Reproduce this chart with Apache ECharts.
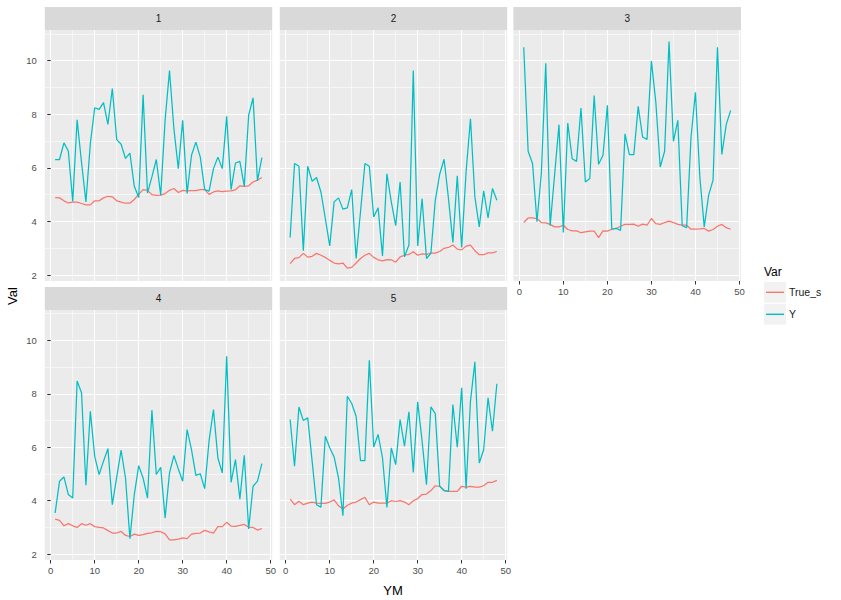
<!DOCTYPE html>
<html>
<head>
<meta charset="utf-8">
<script src="https://cdn.jsdelivr.net/npm/echarts@6/dist/echarts.min.js"></script>
<style>
html,body{margin:0;padding:0;background:#fff;}
#chart{width:841px;height:600px;}
</style>
</head>
<body>
<div id="chart"></div>
<script>
// ---------- data ----------
const months = [1,2,3,4,5,6,7,8,9,10,11,12,13,14,15,16,17,18,19,20,21,22,23,24,
                25,26,27,28,29,30,31,32,33,34,35,36,37,38,39,40,41,42,43,44,45,46,47,48];
const panelLabels = ['1','2','3','4','5'];
const seriesNames = ['True_s','Y'];
const yTicks = [2,4,6,8,10];
const yMinorTicks = [3,5,7,9,11];
const xTicks = [0,10,20,30,40,50];
const xMinorTicks = [5,15,25,35,45];

const trueS1 = [4.89,4.88,4.77,4.69,4.72,4.72,4.67,4.62,4.62,4.77,4.77,4.88,4.94,4.92,4.77,4.72,4.68,4.68,4.82,5.01,5.19,5.16,5.00,4.97,
                4.98,5.04,5.16,5.23,5.08,5.16,5.14,5.15,5.15,5.19,5.19,5.01,5.10,5.14,5.11,5.13,5.14,5.18,5.33,5.31,5.33,5.47,5.54,5.64];
const y1 = [6.31,6.31,6.93,6.63,4.75,7.79,6.20,4.73,6.90,8.24,8.18,8.43,7.62,8.96,7.05,6.88,6.35,6.55,5.31,4.89,8.72,5.06,5.66,6.31,
            4.98,7.77,9.63,7.46,5.97,7.77,5.04,6.47,6.96,6.40,5.19,5.13,5.97,6.40,5.97,7.92,5.19,6.18,6.24,5.31,7.96,8.61,5.51,6.38];

const trueS2 = [2.43,2.62,2.65,2.81,2.67,2.70,2.81,2.74,2.66,2.55,2.45,2.42,2.45,2.26,2.29,2.45,2.62,2.74,2.81,2.66,2.57,2.53,2.58,2.57,
                2.48,2.68,2.74,2.77,2.87,2.74,2.79,2.77,2.82,2.82,2.88,3.00,3.03,3.12,2.97,2.94,3.08,3.12,2.91,2.76,2.76,2.83,2.83,2.88];
const y2 = [3.40,6.16,6.06,2.91,6.06,5.50,5.64,5.10,4.11,3.09,4.73,4.88,4.46,4.51,5.19,2.62,4.36,6.16,6.06,4.17,4.51,2.71,5.78,4.73,
            3.84,5.47,2.68,3.12,9.63,3.09,4.85,2.62,2.81,4.79,5.76,6.32,4.85,3.22,5.70,3.03,5.85,7.83,4.92,3.80,5.14,4.13,5.23,4.79];

const trueS3 = [3.96,4.13,4.13,4.11,3.96,3.95,3.89,3.80,3.80,3.86,3.70,3.65,3.65,3.58,3.61,3.64,3.64,3.40,3.65,3.64,3.71,3.74,3.82,3.89,
                3.89,3.90,3.82,3.90,3.86,4.11,3.92,3.89,3.96,4.01,3.96,3.89,3.86,3.86,3.71,3.71,3.72,3.74,3.64,3.70,3.82,3.89,3.77,3.71];
const y3 = [10.50,6.62,6.16,3.99,5.80,9.90,3.84,5.72,7.61,3.59,7.67,6.34,6.24,8.23,5.47,5.60,8.70,6.13,6.47,8.33,3.71,3.74,3.67,7.27,
            6.49,6.49,8.29,7.15,7.06,9.98,8.45,6.03,6.62,10.71,6.99,7.77,3.84,3.77,7.15,8.82,5.66,3.80,4.98,5.54,10.50,6.50,7.62,8.14];

const trueS4 = [3.31,3.26,3.06,3.14,3.06,3.00,3.14,3.08,3.14,3.03,3.00,2.98,2.88,2.79,2.79,2.85,2.70,2.66,2.75,2.70,2.73,2.78,2.80,2.85,
                2.84,2.76,2.53,2.53,2.56,2.61,2.58,2.75,2.78,2.79,2.89,2.83,2.79,3.03,3.03,3.19,3.05,3.04,3.08,3.11,3.01,3.00,2.90,2.96];
const y4 = [3.54,4.73,4.89,4.23,4.10,8.48,8.04,4.58,7.35,5.66,4.98,5.48,5.95,3.85,4.88,5.89,4.85,2.58,4.23,5.31,4.85,4.10,7.39,4.98,
            5.25,3.35,5.04,5.69,5.19,4.73,6.66,5.91,4.95,5.01,4.45,6.25,7.41,5.60,5.04,9.41,4.69,5.54,4.06,5.70,2.94,4.54,4.73,5.39];

const trueS5 = [4.06,3.85,3.98,3.85,3.91,3.95,3.91,3.90,3.90,3.95,4.03,3.81,3.69,3.83,3.91,3.95,4.04,4.13,3.85,3.95,3.91,3.91,3.91,4.00,
                3.97,4.00,3.95,3.85,4.00,4.08,4.23,4.25,4.38,4.56,4.54,4.38,4.35,4.35,4.35,4.54,4.51,4.54,4.51,4.51,4.56,4.69,4.69,4.76];
const y5 = [7.04,5.29,7.51,7.00,7.10,5.48,3.85,3.76,6.41,5.98,5.64,4.85,3.44,7.91,7.64,7.16,5.50,5.50,9.26,6.01,6.48,5.60,3.75,5.98,
            5.35,7.04,6.04,7.33,5.06,7.70,6.23,4.60,7.51,7.26,4.54,4.38,4.35,7.60,6.00,8.23,4.45,7.73,9.20,5.41,5.91,7.85,6.60,8.38];

const trueSeries = [trueS1, trueS2, trueS3, trueS4, trueS5];
const ySeries = [y1, y2, y3, y4, y5];

// ---------- layout / style ----------
const FONT = '"Liberation Sans", Arial, Helvetica, sans-serif';
const colors = {True_s: '#F8766D', Y: '#00BFC4'};
const xRange = [-1.35, 50.35];
const yRange = [1.78, 11.14];
const panels = [
  {left: 44.8,  top: 30,  width: 227.4, height: 251, showX: false, showY: true},
  {left: 279.8, top: 30,  width: 227.4, height: 251, showX: false, showY: false},
  {left: 513.4, top: 30,  width: 227.6, height: 251, showX: true,  showY: false},
  {left: 44.8,  top: 310, width: 227.4, height: 250, showX: true,  showY: true},
  {left: 279.8, top: 310, width: 227.4, height: 250, showX: true,  showY: false}
];
const STRIP_H = 23;

const grid = [], xAxis = [], yAxis = [], series = [], graphic = [];

panels.forEach((p, i) => {
  grid.push({
    left: p.left, top: p.top, width: p.width, height: p.height,
    show: true, backgroundColor: '#EBEBEB', borderWidth: 0,
    containLabel: false, outerBoundsMode: 'none'
  });
  // minor x grid
  xAxis.push({
    type: 'value', gridIndex: i, min: xRange[0], max: xRange[1], position: 'top',
    axisLine: {show: false}, axisLabel: {show: false},
    axisTick: {show: false, customValues: xMinorTicks},
    splitLine: {show: true, lineStyle: {color: '#FFFFFF', width: 0.55}}
  });
  // major x axis
  xAxis.push({
    type: 'value', gridIndex: i, min: xRange[0], max: xRange[1], position: 'bottom',
    axisLine: {show: false},
    axisTick: {show: p.showX, customValues: xTicks, length: 3.5, lineStyle: {color: '#333333', width: 1}},
    axisLabel: {show: p.showX, customValues: xTicks, color: '#4D4D4D', fontSize: 9.5, fontFamily: FONT, margin: 5},
    splitLine: {show: true, lineStyle: {color: '#FFFFFF', width: 1.1}}
  });
  // minor y grid
  yAxis.push({
    type: 'value', gridIndex: i, min: yRange[0], max: yRange[1], position: 'right',
    axisLine: {show: false}, axisLabel: {show: false},
    axisTick: {show: false, customValues: yMinorTicks},
    splitLine: {show: true, lineStyle: {color: '#FFFFFF', width: 0.55}}
  });
  // major y axis
  yAxis.push({
    type: 'value', gridIndex: i, min: yRange[0], max: yRange[1], position: 'left',
    axisLine: {show: false},
    axisTick: {show: p.showY, customValues: yTicks, length: 3.5, lineStyle: {color: '#333333', width: 1}},
    axisLabel: {show: p.showY, customValues: yTicks, color: '#4D4D4D', fontSize: 9.5, fontFamily: FONT, margin: 8},
    splitLine: {show: true, lineStyle: {color: '#FFFFFF', width: 1.1}}
  });

  const pairsT = months.map((m, k) => [m, trueSeries[i][k]]);
  const pairsY = months.map((m, k) => [m, ySeries[i][k]]);
  series.push({
    name: seriesNames[0], type: 'line', xAxisIndex: 2 * i + 1, yAxisIndex: 2 * i + 1,
    data: pairsT, symbol: 'none', showSymbol: false, silent: true, animation: false,
    lineStyle: {color: colors.True_s, width: 1.25}, itemStyle: {color: colors.True_s}
  });
  series.push({
    name: seriesNames[1], type: 'line', xAxisIndex: 2 * i + 1, yAxisIndex: 2 * i + 1,
    data: pairsY, symbol: 'none', showSymbol: false, silent: true, animation: false,
    lineStyle: {color: colors.Y, width: 1.25}, itemStyle: {color: colors.Y}
  });

  // facet strip
  graphic.push({
    type: 'rect', z: 1,
    shape: {x: p.left, y: p.top - STRIP_H, width: p.width, height: STRIP_H},
    style: {fill: '#D9D9D9'}
  });
  graphic.push({
    type: 'text', z: 2,
    x: p.left + p.width / 2, y: p.top - STRIP_H / 2,
    style: {text: panelLabels[i], fill: '#1A1A1A', fontSize: 10, fontFamily: FONT,
            align: 'center', verticalAlign: 'middle'}
  });
});

// axis titles
graphic.push({
  type: 'text', z: 2, x: 393, y: 590,
  style: {text: 'YM', fill: '#000000', fontSize: 13, fontFamily: FONT, align: 'center', verticalAlign: 'middle'}
});
graphic.push({
  type: 'text', z: 2, x: 12, y: 296, rotation: Math.PI / 2,
  style: {text: 'Val', fill: '#000000', fontSize: 13, fontFamily: FONT, align: 'center', verticalAlign: 'middle'}
});
// legend title and key backgrounds
graphic.push({
  type: 'text', z: 2, x: 764, y: 272,
  style: {text: 'Var', fill: '#000000', fontSize: 12, fontFamily: FONT, align: 'left', verticalAlign: 'middle'}
});
graphic.push({type: 'rect', z: 1, shape: {x: 764, y: 282, width: 22, height: 20.6}, style: {fill: '#F2F2F2'}});
graphic.push({type: 'rect', z: 1, shape: {x: 764, y: 304, width: 22, height: 20.6}, style: {fill: '#F2F2F2'}});

const option = {
  backgroundColor: '#FFFFFF',
  animation: false,
  textStyle: {fontFamily: FONT},
  grid, xAxis, yAxis, series, graphic,
  legend: {
    data: seriesNames, orient: 'vertical', left: 766, top: 281.3,
    icon: 'rect', itemWidth: 18, itemHeight: 1.4, itemGap: 0,
    selectedMode: false, z: 5, padding: 0,
    textStyle: {fontSize: 10.5, lineHeight: 22, color: '#1A1A1A', fontFamily: FONT}
  },
  tooltip: {show: false}
};

const chart = echarts.init(document.getElementById('chart'), null, {renderer: 'svg', width: 841, height: 600});
chart.setOption(option);
</script>
</body>
</html>
